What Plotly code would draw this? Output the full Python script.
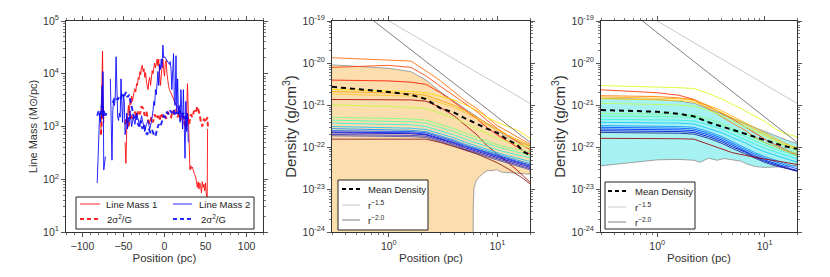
import plotly.graph_objects as go

# ---------------- Panel 1 data: line mass along filament ----------------
lm1_pos = [-77.5, -76.5, -75.5, -75.0, -74.0, -60,
           -48, -47, -46, -45, -44, -43, -42, -41, -40, -39, -38, -37, -36, -35, -34, -33, -32, -31,
           -30, -29, -28, -27, -26, -25, -24, -23, -22, -21, -20, -19, -18, -17, -16, -15, -14, -13,
           -12, -11, -10, -9, -8, -7, -6, -5, -4, -3, -2, -1, 0, 1, 2, 3, 4, 5, 6, 7, 8, 9, 10, 11,
           12, 13, 14, 15, 16, 17, 18, 19, 20, 21, 22, 23, 24, 25, 26, 27, 28, 29, 30, 31, 32, 33,
           34, 35, 36, 37, 38, 39, 40, 41, 42, 43, 44, 45, 46, 47, 48, 49, 50, 51, 52, 52.5]
lm1_val = [700, 3000, 27000, 5000, 1200, None,
           500, 200, 900, 1300, 2500, 1600, 3200, 2600, 3800, 3000, 4200, 4600, 5200, 4500, 6500, 6000, 8500, 7800,
           11000, 9500, 13500, 14500, 11000, 12500, 8500, 10500, 7000, 6000, 5000, 7500, 8500, 6000, 9000, 11500, 10000, 12000,
           16000, 13000, 18000, 19000, 14000, 19000, 10000, 6000, 9000, 17000, 19000, 12000, 9000, 16000, 18000, 10000, 7000, 5800, 5000, 4600, 4200, 3800, 3500, 3200,
           3000, 2800, 2600, 2500, 2300, 2200, 2000, 1900, 1800, 1700, 1600, 1500, 1300, 1200, 1000, 1600, 6500, 1100, 500, 150, 180, 160,
           170, 140, 130, 120, 110, 90, 70, 90, 65, 85, 75, 55, 90, 70, 80, 60, 85, 50, 40, 900]

lm2_pos = [-82, -81, -80, -79, -78, -77, -76, -75.5, -75, -74.5, -74, -73, -72, -69,
           -66, -65, -64, -63, -62, -61, -60, -59, -58, -57, -56, -55, -54, -53, -52, -51, -50, -49,
           -48, -47, -46, -45, -44, -43, -42, -41, -40, -38, -36, -34, -32, -30, -28, -26, -24, -22,
           -20, -18, -16, -14, -13, -12, -11, -10, -9, -8, -7, -6, -5, -4, -3, -2, -1, 0, 1, 2, 3, 4,
           5, 6, 7, 8, 9, 10, 11, 12, 13, 14, 15, 16, 17, 18, 19, 20, 21, 22, 23, 24, 25, 26, 27, 28, 29]
lm2_val = [85, 300, 1500, 1800, 1200, 2200, 6000, 1500, 11000, 2500, 150, 200, 270, None,
           8000, 1200, 230, 2000, 3000, 2500, 3500, 21000, 3000, 1500, 1300, 1800, 1500, 8000, 2500, 1200, 4000, 3000,
           700, 900, 1800, 900, 1500, 1200, 2000, 1300, 1000, 1500, 1100, 1800, 1300, 1000, 1600, 1200, 800, 1100,
           1300, 900, 1200, 2000, 3000, 2500, 5000, 4000, 7000, 11000, 6000, 15000, 12000, 19000, 13000, 35000, 20000, 21000, 20000, 19000, 18000, 17000,
           16000, 15000, 17000, 12000, 5000, 9000, 24000, 3000, 2500, 22000, 2000, 8000, 1700, 2500, 1200, 5000, 1500, 900, 5000, 1000, 250, 3000, 800, 1800, 500]

vir1_pos = [-77.5, -76.5, -75.5, -74.5, -60,
            -48, -46, -44, -42, -40, -38, -36, -34, -32, -30, -28, -26, -24, -22, -20, -18, -16, -14,
            -12, -10, -8, -6, -4, -2, 0, 2, 4, 6, 8, 10, 12, 14, 16, 18, 20, 22, 24, 26, 28, 30, 32,
            34, 36, 38, 40, 42, 44, 46, 48, 50, 52, 53]
vir1_val = [700, 1600, 2200, 1300, None,
            1100, 1500, 1000, 1300, 1700, 1400, 1900, 1500, 2000, 1700, 2400, 2200, 1600, 1900, 1300, 1100, 1500, 1200,
            1700, 1400, 1600, 1300, 1800, 1500, 1700, 1400, 1900, 1600, 1500, 2000, 1700, 2100, 1500, 1800, 1300, 1600, 1200, 900, 1400, 1100, 1700,
            1500, 2000, 1800, 2400, 1900, 1300, 1000, 1400, 1200, 1500, 1000]

vir2_pos = [-82, -80, -78, -76, -74, -72, -71, -67,
            -63, -61, -59, -57, -55, -53, -51, -49, -47, -45, -43, -41, -39, -37, -35, -33, -31, -29,
            -27, -25, -23, -21, -19, -17, -15, -13, -11, -9, -7, -5, -3, -1, 1, 3, 5, 7, 9, 11, 13,
            15, 17, 19, 21, 23, 25, 27, 29]
vir2_val = [1600, 2000, 1700, 2500, 2000, 1500, 1800, None,
            2800, 3400, 3600, 3200, 3800, 3500, 4200, 3800, 4500, 3600, 4000, 3000, 2000, 1400, 1600, 1200, 1000, 1300,
            900, 1100, 800, 700, 900, 750, 850, 700, 650, 900, 1100, 1000, 1300, 1600, 1500, 1900, 1700, 2000, 1800, 2100, 1600,
            1900, 1700, 2000, 1500, 1800, 1400, 1700, 1200]

# tick labels
lm_ticks = [10, 100, 1000, 10000, 100000]
lm_ticktext = ["10<sup>1</sup>", "10<sup>2</sup>", "10<sup>3</sup>", "10<sup>4</sup>", "10<sup>5</sup>"]
r_ticks = [1, 10]
r_ticktext = ["10<sup>0</sup>", "10<sup>1</sup>"]
rho_ticks = [1e-24, 1e-23, 1e-22, 1e-21, 1e-20, 1e-19]
rho_ticktext = ["10<sup>-24</sup>", "10<sup>-23</sup>", "10<sup>-22</sup>", "10<sup>-21</sup>",
                "10<sup>-20</sup>", "10<sup>-19</sup>"]

# ---------------- Panels 2 & 3: radial density profiles (log10 g/cm^3) ----------------
radius = [0.3, 1.0, 1.6, 2.2, 3.0, 4.0, 5.0, 6.5, 8.0, 10.0, 12.5, 15.0, 17.5, 20.0]

p2_profiles = [
    [-19.87, -19.92, -19.95, -20.18, -20.42, -20.68, -20.88, -21.08, -21.28, -21.48, -21.62, -21.74, -21.84, -21.92],
    [-20.10, -20.05, -20.10, -20.30, -20.55, -20.78, -20.95, -21.15, -21.35, -21.55, -21.72, -21.85, -21.95, -22.05],
    [-20.40, -20.42, -20.45, -20.50, -20.70, -20.92, -21.10, -21.32, -21.52, -21.70, -21.85, -21.98, -22.08, -22.15],
    [-20.62, -20.65, -20.67, -20.70, -20.78, -20.87, -20.98, -21.12, -21.28, -21.40, -21.50, -21.58, -21.68, -21.78],
    [-20.67, -20.70, -20.72, -20.76, -20.88, -21.00, -21.12, -21.28, -21.42, -21.56, -21.70, -21.80, -21.88, -21.95],
    [-20.73, -20.76, -20.78, -20.82, -20.93, -21.05, -21.17, -21.32, -21.46, -21.60, -21.72, -21.82, -21.90, -21.98],
    [-20.86, -20.86, -20.87, -20.90, -21.05, -21.25, -21.45, -21.70, -21.95, -22.15, -22.35, -22.52, -22.68, -22.82],
    [-20.99, -21.02, -21.05, -21.08, -21.18, -21.30, -21.42, -21.56, -21.68, -21.78, -21.86, -21.92, -21.96, -22.00],
    [-21.28, -21.30, -21.32, -21.35, -21.45, -21.55, -21.65, -21.76, -21.85, -21.93, -22.00, -22.04, -22.08, -22.10],
    [-21.35, -21.37, -21.39, -21.42, -21.52, -21.62, -21.72, -21.82, -21.90, -21.98, -22.05, -22.10, -22.14, -22.18],
    [-21.42, -21.44, -21.46, -21.50, -21.60, -21.70, -21.80, -21.90, -21.98, -22.05, -22.12, -22.17, -22.21, -22.24],
    [-21.50, -21.52, -21.54, -21.57, -21.67, -21.77, -21.87, -21.97, -22.05, -22.12, -22.19, -22.25, -22.30, -22.33],
    [-21.55, -21.57, -21.59, -21.62, -21.72, -21.82, -21.92, -22.01, -22.09, -22.16, -22.23, -22.29, -22.34, -22.38],
    [-21.60, -21.61, -21.62, -21.65, -21.75, -21.85, -21.95, -22.04, -22.12, -22.19, -22.26, -22.32, -22.37, -22.41],
    [-21.63, -21.64, -21.65, -21.68, -21.78, -21.88, -21.97, -22.06, -22.14, -22.21, -22.28, -22.34, -22.39, -22.44],
    [-21.65, -21.66, -21.67, -21.70, -21.80, -21.90, -22.00, -22.09, -22.17, -22.24, -22.31, -22.37, -22.42, -22.47],
    [-21.69, -21.70, -21.71, -21.73, -21.83, -21.93, -22.03, -22.12, -22.20, -22.27, -22.34, -22.40, -22.45, -22.50],
    [-21.72, -21.73, -21.74, -21.76, -21.86, -21.96, -22.06, -22.15, -22.23, -22.30, -22.37, -22.43, -22.48, -22.53],
    [-21.80, -21.79, -21.79, -21.80, -21.88, -21.97, -22.05, -22.15, -22.25, -22.36, -22.50, -22.62, -22.74, -22.86],
]
p2_colors = ["#ff6a00", "#ff4000", "#ff1a00", "#ffe000", "#ffa500", "#ffc830", "#b00000", "#c0ff40",
             "#80ff80", "#50ffb0", "#30f0e0", "#10c8ff", "#1090ff", "#0050ff", "#0020ff", "#0000e0",
             "#3030c0", "#5050b0", "#8b1a1a"]
p2_mean = [-20.56, -20.68, -20.75, -20.85, -21.07, -21.17, -21.30, -21.45, -21.55, -21.65, -21.82, -21.92, -22.10, -22.18]
p2_band_upper = [-20.04, -20.12, -20.20, -20.40, -20.68, -20.90, -21.08, -21.28, -21.44, -21.60, -21.74, -21.84, -21.90, -21.96]
p2_band_lower_r = [0.3, 5.98, 6.0, 6.1, 6.4, 6.9, 7.5, 8.2, 9.0, 9.8, 10.9, 12.5, 15.0, 17.5, 20.0]
p2_band_lower = [-25.0, -25.0, -23.4, -22.95, -22.78, -22.68, -22.60, -22.54, -22.55, -22.52, -22.58, -22.60, -22.60, -22.62, -22.63]

p3_profiles = [
    [-20.53, -20.56, -20.58, -20.60, -20.72, -20.85, -20.97, -21.12, -21.25, -21.38, -21.55, -21.66, -21.70, -21.75],
    [-20.63, -20.70, -20.76, -20.86, -21.02, -21.18, -21.32, -21.50, -21.65, -21.80, -21.93, -22.03, -22.10, -22.15],
    [-20.77, -20.79, -20.82, -20.87, -21.08, -21.28, -21.42, -21.58, -21.74, -21.88, -21.98, -22.07, -22.13, -22.18],
    [-20.80, -20.82, -20.84, -20.88, -21.00, -21.13, -21.26, -21.40, -21.53, -21.66, -21.78, -21.88, -21.96, -22.00],
    [-20.84, -20.86, -20.88, -20.92, -21.04, -21.17, -21.30, -21.45, -21.58, -21.70, -21.82, -21.92, -21.98, -22.04],
    [-20.95, -20.97, -20.99, -21.02, -21.12, -21.24, -21.36, -21.50, -21.62, -21.74, -21.86, -21.95, -22.02, -22.08],
    [-21.19, -21.20, -21.21, -21.23, -21.32, -21.43, -21.54, -21.66, -21.78, -21.88, -21.97, -22.05, -22.10, -22.14],
    [-21.25, -21.26, -21.27, -21.29, -21.38, -21.49, -21.60, -21.72, -21.84, -21.94, -22.03, -22.10, -22.16, -22.20],
    [-21.33, -21.34, -21.35, -21.37, -21.46, -21.57, -21.68, -21.80, -21.92, -22.02, -22.10, -22.17, -22.22, -22.26],
    [-21.40, -21.41, -21.42, -21.44, -21.54, -21.65, -21.76, -21.88, -22.00, -22.10, -22.18, -22.25, -22.30, -22.34],
    [-21.48, -21.49, -21.50, -21.52, -21.62, -21.74, -21.86, -21.99, -22.11, -22.21, -22.30, -22.37, -22.42, -22.46],
    [-21.52, -21.53, -21.54, -21.56, -21.66, -21.78, -21.90, -22.03, -22.15, -22.25, -22.34, -22.41, -22.46, -22.50],
    [-21.56, -21.57, -21.58, -21.60, -21.70, -21.82, -21.94, -22.07, -22.19, -22.29, -22.38, -22.45, -22.50, -22.54],
    [-21.60, -21.61, -21.62, -21.64, -21.74, -21.86, -21.98, -22.10, -22.22, -22.32, -22.41, -22.47, -22.52, -22.56],
    [-21.64, -21.65, -21.66, -21.68, -21.78, -21.90, -22.02, -22.14, -22.25, -22.35, -22.43, -22.48, -22.52, -22.55],
    [-21.78, -21.78, -21.79, -21.80, -21.92, -22.04, -22.12, -22.18, -22.23, -22.27, -22.31, -22.34, -22.37, -22.40],
]
p3_colors = ["#d8ff20", "#ff3000", "#ff7a00", "#ffb000", "#ffd000", "#c0ff50", "#80ff80", "#50ffb0",
             "#30f0e0", "#10c8ff", "#1090ff", "#0050ff", "#0020ff", "#0000d0", "#202090", "#a00000"]
p3_mean = [-21.11, -21.15, -21.20, -21.26, -21.40, -21.50, -21.56, -21.66, -21.74, -21.82, -21.90, -21.96, -22.00, -22.03]
p3_band_upper = [-20.83, -20.86, -20.90, -20.95, -21.08, -21.20, -21.31, -21.42, -21.52, -21.62, -21.72, -21.80, -21.86, -21.90]
p3_band_lower_r = [0.3, 0.6, 1.0, 1.6, 2.2, 2.5, 3.0, 3.6, 4.2, 5.0, 6.0, 7.0, 8.3, 10.0, 12.0, 15.0, 20.0]
p3_band_lower = [-22.43, -22.35, -22.29, -22.28, -22.30, -22.35, -22.25, -22.30, -22.26, -22.29, -22.32, -22.40, -22.45, -22.47, -22.46, -22.45, -22.42]

# reference power laws (endpoints at r = 0.3 and 20 pc)
powerlaw_r = [0.3, 20.0]
powerlaw_15 = [6.09e-19, 1.118e-21]
powerlaw_20 = [5.89e-19, 1.33e-22]

FONT = "Liberation Sans, Arial, sans-serif"
W, H = 830, 277
T, B = 21, 45
ph = H - T - B

RED, BLUE = "rgba(255,0,0,0.85)", "rgba(0,0,255,0.85)"
LIGHT_GRAY, DARK_GRAY = "#c8c8c8", "#808080"

fig = go.Figure()


def exp10(v):
    return [10 ** a for a in v]


# ---------- panel 1 ----------
fig.add_trace(go.Scatter(x=lm1_pos, y=lm1_val, mode="lines", name="Line Mass 1",
                         line=dict(color=RED, width=1), xaxis="x", yaxis="y"))
fig.add_trace(go.Scatter(x=vir1_pos, y=vir1_val, mode="lines", name="2σ²/G (1)",
                         line=dict(color=RED, width=2, dash="5px,3px"), xaxis="x", yaxis="y"))
fig.add_trace(go.Scatter(x=lm2_pos, y=lm2_val, mode="lines", name="Line Mass 2",
                         line=dict(color=BLUE, width=1), xaxis="x", yaxis="y"))
fig.add_trace(go.Scatter(x=vir2_pos, y=vir2_val, mode="lines", name="2σ²/G (2)",
                         line=dict(color=BLUE, width=2, dash="5px,3px"), xaxis="x", yaxis="y"))


def density_panel(xa, ya, profiles, colors, mean, up, low_r, low, fillcol):
    fig.add_trace(go.Scatter(x=radius + low_r[::-1], y=exp10(up) + exp10(low)[::-1], mode="lines",
                             fill="toself", fillcolor=fillcol,
                             line=dict(color="rgba(140,140,140,0.8)", width=1),
                             xaxis=xa, yaxis=ya, hoverinfo="skip"))
    for prof, col in zip(profiles, colors):
        fig.add_trace(go.Scatter(x=radius, y=exp10(prof), mode="lines", line=dict(color=col, width=1),
                                 opacity=0.85, xaxis=xa, yaxis=ya))
    fig.add_trace(go.Scatter(x=radius, y=exp10(mean), mode="lines", name="Mean Density",
                             line=dict(color="black", width=2, dash="5px,4px"), xaxis=xa, yaxis=ya))
    fig.add_trace(go.Scatter(x=powerlaw_r, y=powerlaw_15, mode="lines", name="r^-1.5",
                             line=dict(color=LIGHT_GRAY, width=1), xaxis=xa, yaxis=ya))
    fig.add_trace(go.Scatter(x=powerlaw_r, y=powerlaw_20, mode="lines", name="r^-2.0",
                             line=dict(color=DARK_GRAY, width=1), xaxis=xa, yaxis=ya))


density_panel("x2", "y2", p2_profiles, p2_colors, p2_mean, p2_band_upper,
              p2_band_lower_r, p2_band_lower, "rgba(250,215,160,0.85)")
density_panel("x3", "y3", p3_profiles, p3_colors, p3_mean, p3_band_upper,
              p3_band_lower_r, p3_band_lower, "rgba(150,240,240,0.85)")

axis_common = dict(showline=True, linecolor="#333333", linewidth=1, mirror="allticks",
                   ticks="outside", ticklen=4, tickcolor="#555555", tickwidth=1,
                   showgrid=False, zeroline=False, automargin=False,
                   tickfont=dict(size=10.5, color="#333333", family=FONT))
minor_lin = dict(ticks="outside", ticklen=2, tickcolor="#777777", dtick=10)
minor_log = dict(ticks="outside", ticklen=2, tickcolor="#777777", dtick="D1")
XT = dict(size=11.5, color="#333333", family=FONT)
YT = dict(size=15, color="#333333", family=FONT)
YT1 = dict(size=11, color="#333333", family=FONT)


def dens_x(dom, anchor):
    return dict(axis_common, type="log", domain=dom, range=[-0.523, 1.301],
                tickmode="array", tickvals=r_ticks, ticktext=r_ticktext,
                title=dict(text="Position (pc)", standoff=3, font=XT),
                minor=minor_log, anchor=anchor)


def dens_y(anchor):
    return dict(axis_common, type="log", domain=[0, 1], range=[-24, -19],
                tickmode="array", tickvals=rho_ticks, ticktext=rho_ticktext, anchor=anchor,
                title=dict(text="Density (g/cm<sup>3</sup>)", standoff=2, font=YT), minor=minor_log)


def px_x(px):
    return px / W


def px_y(py):
    return (H - B - py) / ph


# ---------- hand-placed legend boxes (matplotlib style) ----------
shapes, annotations = [], []


def legend_box(x0, x1, y0, y1, entries):
    shapes.append(dict(type="rect", xref="paper", yref="paper", x0=px_x(x0), x1=px_x(x1),
                       y0=px_y(y1), y1=px_y(y0), fillcolor="white",
                       line=dict(color="#222222", width=1), layer="above"))
    for label, col, width, dash, ry, lx0, lx1, tx in entries:
        shapes.append(dict(type="line", xref="paper", yref="paper", x0=px_x(lx0), x1=px_x(lx1),
                           y0=px_y(ry), y1=px_y(ry), layer="above",
                           line=dict(color=col, width=width, dash=dash)))
        annotations.append(dict(text=label, xref="paper", yref="paper", x=px_x(tx), y=px_y(ry),
                                xanchor="left", yanchor="middle", showarrow=False,
                                font=dict(size=9.5, color="#222222", family=FONT)))


legend_box(76, 254, 197, 229, [
    ("Line Mass 1", RED, 1, "solid", 204, 80, 100, 104),
    ("Line Mass 2", BLUE, 1, "solid", 204, 173, 192, 197),
    ("2σ<sup>2</sup>/G", RED, 2, "4px,3px", 219, 80, 100, 105),
    ("2σ<sup>2</sup>/G", BLUE, 2, "4px,3px", 219, 173, 192, 199),
])
for bx0, bx1, by0, by1, lx0, lx1, tx in [(338, 428, 180, 230, 342, 360, 366),
                                         (605, 695, 182, 229, 608, 626, 633)]:
    legend_box(bx0, bx1, by0, by1, [
        ("Mean Density", "black", 2, "4px,3px", by0 + 9, lx0, lx1, tx),
        ("r<sup>−1.5</sup>", LIGHT_GRAY, 1, "solid", by0 + 25, lx0, lx1, tx),
        ("r<sup>−2.0</sup>", DARK_GRAY, 1, "solid", by0 + 40, lx0, lx1, tx),
    ])

fig.update_layout(
    width=W, height=H, margin=dict(l=0, r=0, t=T, b=B),
    paper_bgcolor="white", plot_bgcolor="white",
    font=dict(family=FONT, color="#333333"),
    showlegend=False,
    xaxis=dict(axis_common, domain=[66 / W, 263 / W], range=[-120, 120], dtick=50,
               title=dict(text="Position (pc)", standoff=3, font=XT), minor=minor_lin, anchor="y"),
    yaxis=dict(axis_common, type="log", domain=[0, 1], range=[1, 5],
               tickmode="array", tickvals=lm_ticks, ticktext=lm_ticktext,
               title=dict(text="Line Mass (M⊙/pc)", standoff=3, font=YT1), minor=minor_log, anchor="x"),
    xaxis2=dens_x([332 / W, 530 / W], "y2"),
    yaxis2=dens_y("x2"),
    xaxis3=dens_x([601 / W, 797 / W], "y3"),
    yaxis3=dens_y("x3"),
    shapes=shapes,
    annotations=annotations,
)

fig.write_html("out.html", config={"displayModeBar": False},
               post_script="document.body.style.margin='0px';")
